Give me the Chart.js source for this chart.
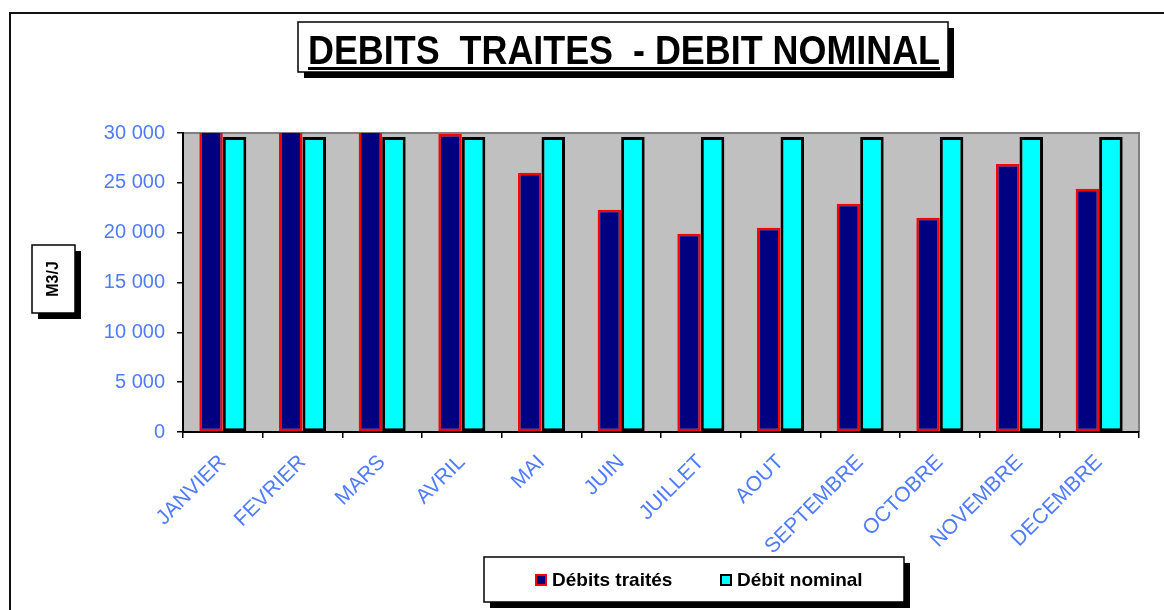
<!DOCTYPE html>
<html>
<head>
<meta charset="utf-8">
<script src="https://cdn.jsdelivr.net/npm/chart.js@4.4.1/dist/chart.umd.min.js"></script>
<style>
  body { margin: 0; background: #fff; }
  #wrap { width: 1164px; height: 610px; position: relative; }
</style>
</head>
<body>
<div id="wrap"><canvas id="myChart"></canvas></div>
<script>
// Months on the x-axis
const months = ['JANVIER', 'FEVRIER', 'MARS', 'AVRIL', 'MAI', 'JUIN', 'JUILLET', 'AOUT', 'SEPTEMBRE', 'OCTOBRE', 'NOVEMBRE', 'DECEMBRE'];
// Treated flows in m3/day (first three go over the axis top and get cut off)
const debitsTraites = [31500, 31200, 30800, 29900, 26000, 22300, 19900, 20500, 22900, 21500, 26900, 24400];
// Nominal flow
const debitNominal = [29600, 29600, 29600, 29600, 29600, 29600, 29600, 29600, 29600, 29600, 29600, 29600];
// Texts
const titleText = 'DEBITS  TRAITES  - DEBIT NOMINAL';
const yTitle = 'M3/J';
const seriesNames = ['Débits traités', 'Débit nominal'];

const blue = '#4f7bff';
const font = '"Liberation Sans", Arial, sans-serif';

// White box with a black drop shadow, Excel style
function shadowBox(ctx, x, y, w, h, off) {
    ctx.fillStyle = '#000';
    ctx.fillRect(x + off, y + off, w, h);
    ctx.fillStyle = '#fff';
    ctx.fillRect(x, y, w, h);
    ctx.strokeStyle = '#000';
    ctx.lineWidth = 1.5;
    ctx.strokeRect(x, y, w, h);
    ctx.fillStyle = '#000';
}

const excelLook = {
    id: 'excelLook',
    beforeDraw(chart) {
        const { ctx, chartArea: a } = chart;
        ctx.save();
        // outer frame (left and top only visible)
        ctx.strokeStyle = '#111';
        ctx.lineWidth = 2;
        ctx.beginPath();
        ctx.moveTo(10, chart.height);
        ctx.lineTo(10, 13);
        ctx.lineTo(chart.width, 13);
        ctx.stroke();
        // grey plot area
        ctx.fillStyle = '#c0c0c0';
        ctx.fillRect(a.left, a.top, a.right - a.left, a.bottom - a.top);
        ctx.strokeStyle = '#808080';
        ctx.lineWidth = 2;
        ctx.beginPath();
        ctx.moveTo(a.left, a.top);
        ctx.lineTo(a.right, a.top);
        ctx.lineTo(a.right, a.bottom);
        ctx.stroke();
        ctx.restore();
    },
    afterDraw(chart) {
        const ctx = chart.ctx;
        ctx.save();
        // Title, squeezed to the width it has in the original
        shadowBox(ctx, 298, 22, 650, 50, 6);
        ctx.font = 'bold 40px ' + font;
        ctx.textAlign = 'center';
        ctx.textBaseline = 'alphabetic';
        const tw = ctx.measureText(titleText).width;
        const sx = 632 / tw;
        ctx.save();
        ctx.translate(624, 0);
        ctx.scale(sx, 1);
        ctx.fillText(titleText, 0, 64);
        ctx.restore();
        ctx.fillRect(624 - 316, 67, 632, 3);

        // Y-axis title
        shadowBox(ctx, 32, 245, 43, 68, 6);
        ctx.save();
        ctx.translate(54, 279);
        ctx.rotate(-Math.PI / 2);
        ctx.font = 'bold 16px ' + font;
        ctx.textAlign = 'center';
        ctx.textBaseline = 'middle';
        ctx.fillText(yTitle, 0, 0);
        ctx.restore();

        // Legend
        shadowBox(ctx, 484, 557, 420, 45, 6);
        ctx.font = 'bold 19px ' + font;
        ctx.textAlign = 'left';
        ctx.textBaseline = 'middle';
        ctx.fillStyle = '#000080';
        ctx.fillRect(535, 574, 12, 12);
        ctx.strokeStyle = '#ff0000';
        ctx.lineWidth = 2;
        ctx.strokeRect(536, 575, 10, 10);
        ctx.fillStyle = '#000';
        ctx.fillText(seriesNames[0], 552, 581);
        ctx.fillStyle = '#00ffff';
        ctx.fillRect(720, 574, 12, 12);
        ctx.strokeStyle = '#000';
        ctx.strokeRect(721, 575, 10, 10);
        ctx.fillStyle = '#000';
        ctx.fillText(seriesNames[1], 737, 581);
        ctx.restore();
    }
};

const ctx = document.getElementById('myChart').getContext('2d');
new Chart(ctx, {
    type: 'bar',
    data: {
        labels: months,
        datasets: [
            {
                label: seriesNames[0],
                data: debitsTraites,
                backgroundColor: '#000080',
                borderColor: '#ff0000',
                borderWidth: 2.5,
                borderSkipped: false
            },
            {
                label: seriesNames[1],
                data: debitNominal,
                backgroundColor: '#00ffff',
                borderColor: '#000000',
                borderWidth: 3,
                borderSkipped: false
            }
        ]
    },
    options: {
        responsive: true,
        maintainAspectRatio: false,
        animation: false,
        barPercentage: 1,
        categoryPercentage: 0.59,
        layout: { padding: { top: 133, right: 25, left: 0, bottom: 0 } },
        plugins: {
            legend: { display: false },
            title: { display: false },
            tooltip: { enabled: false }
        },
        scales: {
            x: {
                afterFit: scale => { scale.height = 178; },
                grid: { offset: true, drawOnChartArea: false, drawTicks: true, tickLength: 6, color: '#000', lineWidth: 1.5 },
                border: { color: '#000', width: 2 },
                ticks: {
                    autoSkip: false,
                    minRotation: 45,
                    maxRotation: 45,
                    padding: 12,
                    color: blue,
                    font: { family: font, size: 21 }
                }
            },
            y: {
                min: 0,
                max: 30000,
                afterFit: scale => { scale.width = 183; },
                grid: { drawOnChartArea: false, drawTicks: true, tickLength: 6, color: '#000', lineWidth: 1.5 },
                border: { color: '#000', width: 2 },
                ticks: {
                    stepSize: 5000,
                    padding: 12,
                    color: blue,
                    font: { family: font, size: 20 },
                    callback: v => v.toString().replace(/\B(?=(\d{3})+(?!\d))/g, ' ')
                }
            }
        }
    },
    plugins: [excelLook]
});
</script>
</body>
</html>
